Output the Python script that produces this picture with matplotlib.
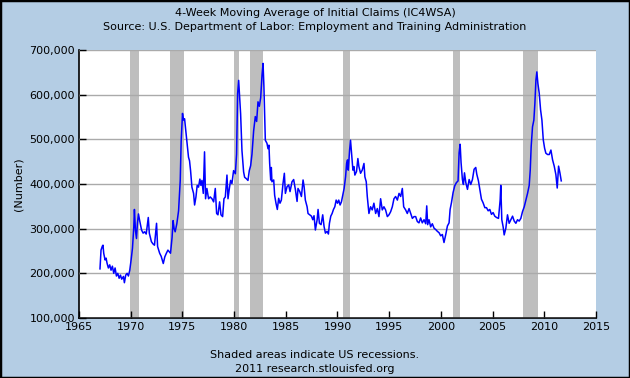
import matplotlib
matplotlib.use("Agg")
import matplotlib.pyplot as plt
from matplotlib.ticker import FuncFormatter, MultipleLocator

# weekly claims (decimal year, thousands)
years = [
    1967.03, 1967.13, 1967.26, 1967.32, 1967.39, 1967.52, 1967.62, 1967.71,
    1967.84, 1967.97, 1968.10, 1968.23, 1968.36, 1968.49, 1968.62, 1968.75,
    1968.88, 1969.01, 1969.13, 1969.30, 1969.39, 1969.52, 1969.65, 1969.78,
    1969.91, 1970.04, 1970.17, 1970.30, 1970.36, 1970.46, 1970.56, 1970.65,
    1970.75, 1970.85, 1971.05, 1971.20, 1971.35, 1971.50, 1971.70, 1971.80,
    1972.00, 1972.15, 1972.30, 1972.50, 1972.60, 1972.80, 1972.95, 1973.15,
    1973.30, 1973.45, 1973.60, 1973.85, 1974.00, 1974.10, 1974.20, 1974.30,
    1974.46, 1974.63, 1974.79, 1974.88, 1975.01, 1975.11, 1975.21, 1975.34,
    1975.43, 1975.59, 1975.69, 1975.79, 1975.92, 1976.08, 1976.18, 1976.31,
    1976.43, 1976.56, 1976.69, 1976.79, 1976.89, 1977.02, 1977.14, 1977.24,
    1977.37, 1977.53, 1977.69, 1977.86, 1978.02, 1978.18, 1978.31, 1978.44,
    1978.60, 1978.73, 1978.89, 1979.02, 1979.15, 1979.31, 1979.41, 1979.54,
    1979.66, 1979.79, 1979.95, 1980.12, 1980.24, 1980.34, 1980.44, 1980.54,
    1980.63, 1980.76, 1980.92, 1981.02, 1981.18, 1981.34, 1981.47, 1981.60,
    1981.73, 1981.89, 1982.05, 1982.18, 1982.31, 1982.44, 1982.57, 1982.70,
    1982.80, 1982.88, 1982.95, 1983.02, 1983.18, 1983.28, 1983.37, 1983.44,
    1983.54, 1983.60, 1983.66, 1983.83, 1983.92, 1984.05, 1984.18, 1984.31,
    1984.44, 1984.57, 1984.73, 1984.86, 1984.96, 1985.12, 1985.28, 1985.41,
    1985.60, 1985.76, 1985.93, 1986.09, 1986.18, 1986.35, 1986.51, 1986.67,
    1986.77, 1986.89, 1987.06, 1987.15, 1987.31, 1987.48, 1987.61, 1987.73,
    1987.86, 1988.03, 1988.12, 1988.25, 1988.41, 1988.57, 1988.70, 1988.83,
    1988.99, 1989.12, 1989.22, 1989.35, 1989.48, 1989.61, 1989.74, 1989.87,
    1990.00, 1990.12, 1990.25, 1990.38, 1990.51, 1990.64, 1990.78, 1990.88,
    1990.97, 1991.04, 1991.17, 1991.26, 1991.36, 1991.49, 1991.59, 1991.68,
    1991.84, 1991.97, 1992.07, 1992.23, 1992.39, 1992.56, 1992.65, 1992.78,
    1992.88, 1993.04, 1993.20, 1993.36, 1993.52, 1993.69, 1993.85, 1994.01,
    1994.17, 1994.33, 1994.49, 1994.65, 1994.82, 1994.98, 1995.14, 1995.30,
    1995.46, 1995.62, 1995.79, 1995.95, 1996.11, 1996.27, 1996.40, 1996.59,
    1996.75, 1996.92, 1997.08, 1997.24, 1997.40, 1997.56, 1997.72, 1997.88,
    1998.04, 1998.20, 1998.37, 1998.53, 1998.63, 1998.72, 1998.85, 1999.01,
    1999.17, 1999.34, 1999.50, 1999.66, 1999.82, 1999.98, 2000.14, 2000.30,
    2000.47, 2000.63, 2000.79, 2000.89, 2001.02, 2001.18, 2001.34, 2001.50,
    2001.66, 2001.76, 2001.86, 2001.95, 2002.08, 2002.18, 2002.28, 2002.41,
    2002.57, 2002.73, 2002.89, 2003.05, 2003.21, 2003.37, 2003.47, 2003.63,
    2003.76, 2003.92, 2004.08, 2004.25, 2004.41, 2004.57, 2004.73, 2004.89,
    2005.05, 2005.21, 2005.38, 2005.57, 2005.73, 2005.79, 2005.89, 2006.02,
    2006.12, 2006.28, 2006.44, 2006.60, 2006.76, 2006.93, 2007.09, 2007.25,
    2007.41, 2007.57, 2007.73, 2007.89, 2008.06, 2008.22, 2008.38, 2008.54,
    2008.64, 2008.73, 2008.86, 2008.99, 2009.09, 2009.19, 2009.28, 2009.38,
    2009.51, 2009.64, 2009.77, 2009.90, 2010.03, 2010.15, 2010.32, 2010.48,
    2010.64, 2010.80, 2010.96, 2011.12, 2011.25, 2011.38, 2011.51, 2011.64,
]
claims = [
    210, 252, 261, 263, 245, 230, 234, 223,
    212, 219, 207, 216, 200, 212, 194, 200,
    189, 196, 187, 193, 179, 196, 200, 194,
    207, 230, 256, 304, 343, 296, 278, 312,
    333, 320, 297, 290, 293, 288, 325, 290,
    271, 266, 263, 312, 260, 245, 238, 222,
    237, 245, 252, 245, 280, 318, 300, 293,
    311, 340, 408, 495, 558, 543, 546, 517,
    499, 460, 452, 430, 393, 379, 353, 371,
    397, 393, 411, 397, 408, 379, 472, 367,
    390, 367, 371, 367, 360, 390, 334, 331,
    360, 331, 327, 367, 371, 420, 367, 390,
    408, 401, 430, 423, 467, 602, 632, 594,
    557, 475, 427, 415, 412, 408, 430, 441,
    467, 519, 551, 540, 584, 574, 593, 644,
    670, 620, 560, 498, 491, 479, 487, 446,
    409, 437, 405, 409, 375, 357, 343, 368,
    357, 364, 401, 424, 379, 394, 398, 383,
    405, 410, 387, 361, 390, 383, 372, 409,
    394, 364, 349, 334, 331, 328, 320, 329,
    297, 320, 343, 312, 309, 331, 305, 290,
    294, 288, 312, 328, 334, 343, 349, 364,
    357, 364, 353, 360, 375, 390, 416, 446,
    454, 431, 476, 498, 469, 431, 439, 420,
    428, 457, 439, 424, 431, 446, 416, 405,
    372, 334, 349, 342, 357, 334, 345, 327,
    367, 342, 349, 342, 327, 331, 338, 349,
    367, 372, 364, 379, 372, 390, 349, 342,
    334, 345, 334, 323, 327, 327, 316, 313,
    324, 313, 320, 311, 351, 309, 320, 304,
    311, 301, 298, 294, 291, 284, 287, 269,
    287, 306, 313, 343, 358, 381, 396, 403,
    407, 470, 489, 448, 410, 399, 425, 403,
    388, 410, 399, 410, 433, 437, 422, 407,
    388, 366, 358, 347, 347, 340, 343, 332,
    336, 328, 325, 323, 364, 397, 320, 304,
    286, 301, 331, 312, 320, 328, 317, 312,
    320, 317, 323, 338, 349, 364, 379, 397,
    431, 484, 528, 543, 581, 633, 651, 625,
    603, 566, 543, 499, 480, 469, 466, 466,
    476, 454, 440, 421, 391, 440, 425, 407,
]

# NBER recessions
rec_start = [1969.92, 1973.84, 1980.00, 1981.50, 1990.50, 2001.17, 2007.92]
rec_end = [1970.84, 1975.17, 1980.50, 1982.84, 1991.17, 2001.84, 2009.42]

bg = "#b4cde4"
fig = plt.figure(figsize=(6.3, 3.78), dpi=100, facecolor=bg)
ax = fig.add_axes([79 / 630, 1 - 318 / 378, 517 / 630, 268 / 378])
ax.set_facecolor("white")

for s, e in zip(rec_start, rec_end):
    ax.axvspan(s, e, color="#bebebe", lw=0, zorder=1)

ax.plot(years, [c * 1000 for c in claims], color="#0000ff", lw=1.1, zorder=3)

ax.set_xlim(1965, 2015)
ax.set_ylim(100000, 700000)
ax.xaxis.set_major_locator(MultipleLocator(5))
ax.yaxis.set_major_locator(MultipleLocator(100000))
ax.yaxis.set_major_formatter(FuncFormatter(lambda v, p: f"{int(v):,}"))
ax.grid(axis="y", color="#aaaaaa", lw=1, zorder=2)
ax.set_axisbelow(False)
for side in ["top", "right"]:
    ax.spines[side].set_visible(False)
for side in ["left", "bottom"]:
    ax.spines[side].set_linewidth(1.2)
ax.tick_params(direction="in", length=5, width=1, labelsize=8, pad=3, color="black")
ax.set_ylabel("(Number)", fontsize=8, labelpad=4)

fig.text(0.5, 1 - 13 / 378, "4-Week Moving Average of Initial Claims (IC4WSA)", ha="center", va="center", fontsize=8)
fig.text(0.5, 1 - 27 / 378, "Source: U.S. Department of Labor: Employment and Training Administration", ha="center", va="center", fontsize=8)
fig.text(0.5, 1 - 355 / 378, "Shaded areas indicate US recessions.", ha="center", va="center", fontsize=8)
fig.text(0.5, 1 - 369 / 378, "2011 research.stlouisfed.org", ha="center", va="center", fontsize=8)

# thin black frame around the whole picture
fig.patches.append(plt.Rectangle((0, 0), 1, 1, transform=fig.transFigure, fill=False, ec="black", lw=2.5))

fig.savefig("out.png", dpi=100, facecolor=bg)
